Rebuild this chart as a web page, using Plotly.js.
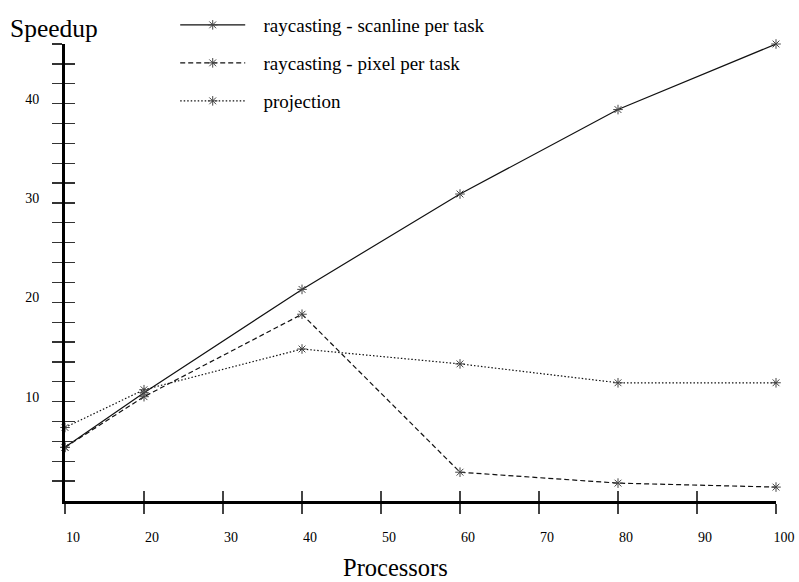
<!DOCTYPE html>
<html>
<head>
<meta charset="utf-8">
<script src="https://cdn.plot.ly/plotly-3.0.1.min.js"></script>
<style>
  html, body { margin: 0; padding: 0; background: #fff; }
  #chart { width: 799px; height: 582px; }
</style>
</head>
<body>
<div id="chart"></div>
<script>
// ---- data ----
const processors = [10, 20, 40, 60, 80, 100];
const scanlinePerTask = [5.4, 10.9, 21.3, 30.9, 39.4, 46.0];
const pixelPerTask = [5.4, 10.5, 18.8, 2.9, 1.8, 1.4];
const projection = [7.4, 11.2, 15.3, 13.8, 11.9, 11.9];
const seriesNames = ['raycasting - scanline per task', 'raycasting - pixel per task', 'projection'];
const xTickVals = [10, 20, 30, 40, 50, 60, 70, 80, 90, 100];
const yTickVals = [2,4,6,8,10,12,14,16,18,20,22,24,26,28,30,32,34,36,38,40,42,44,46];
const yTickLabels = yTickVals.map(v => (v % 10 === 0 ? String(v) : ''));

const FONT = '"Liberation Serif", "Times New Roman", serif';
const GAP = '\u00a0\u00a0\u2009';
const markerStyle = { symbol: 'asterisk-open', size: 8, color: '#444', line: { width: 1, color: '#444' } };

const traces = [
  { x: processors, y: scanlinePerTask, name: GAP + seriesNames[0], mode: 'lines+markers',
    line: { color: '#111', width: 1.2, dash: 'solid' }, marker: markerStyle, cliponaxis: false, legend: 'legend' },
  { x: processors, y: pixelPerTask, name: GAP + seriesNames[1], mode: 'lines+markers',
    line: { color: '#111', width: 1.2, dash: '5px,3px' }, marker: markerStyle, cliponaxis: false, legend: 'legend2' },
  { x: processors, y: projection, name: GAP + seriesNames[2], mode: 'lines+markers',
    line: { color: '#111', width: 1.2, dash: '1.5px,2px' }, marker: markerStyle, cliponaxis: false, legend: 'legend3' }
];

const legendBase = { font: { family: FONT, size: 19, color: '#000' }, bgcolor: 'rgba(0,0,0,0)',
  itemwidth: 65, xanchor: 'left', yanchor: 'middle', borderwidth: 0, yref: 'container' };

const layout = {
  width: 799, height: 582,
  margin: { l: 65, r: 23, t: 44, b: 81, autoexpand: false },
  paper_bgcolor: '#fff', plot_bgcolor: '#fff',
  font: { family: FONT, color: '#000' },
  showlegend: true,
  legend: Object.assign({}, legendBase, { x: 0.155, y: 1 - 25 / 582 }),
  legend2: Object.assign({}, legendBase, { x: 0.155, y: 1 - 63 / 582 }),
  legend3: Object.assign({}, legendBase, { x: 0.155, y: 1 - 101 / 582 }),
  xaxis: {
    range: [10, 100], tickvals: xTickVals, ticktext: xTickVals.map(String),
    showgrid: false, zeroline: false, showline: true, linewidth: 3, linecolor: '#000',
    ticks: 'outside', ticklen: 10, tickwidth: 1.3, tickcolor: '#444',
    tickfont: { family: FONT, size: 14, color: '#000' },
    ticklabelshift: 8, ticklabelstandoff: 11
  },
  xaxis2: {
    overlaying: 'x', matches: 'x', range: [10, 100], tickvals: xTickVals, showticklabels: false,
    showgrid: false, zeroline: false, showline: false,
    ticks: 'inside', ticklen: 10, tickwidth: 1.3, tickcolor: '#444', anchor: 'y'
  },
  yaxis: {
    range: [0, 46], tickvals: yTickVals, ticktext: yTickLabels,
    showgrid: false, zeroline: false, showline: true, linewidth: 3, linecolor: '#000',
    ticks: 'outside', ticklen: 10, tickwidth: 1.3, tickcolor: '#333',
    tickfont: { family: FONT, size: 14, color: '#000' },
    ticklabelshift: -5, ticklabelstandoff: 10
  },
  yaxis2: {
    overlaying: 'y', matches: 'y', range: [0, 46], tickvals: yTickVals, showticklabels: false,
    showgrid: false, zeroline: false, showline: false,
    ticks: 'inside', ticklen: 10, tickwidth: 1.3, tickcolor: '#333', anchor: 'x'
  },
  annotations: [
    { text: 'Speedup', xref: 'paper', yref: 'paper', x: -0.08, y: 0.997, xanchor: 'left', yanchor: 'bottom',
      showarrow: false, font: { family: FONT, size: 25.5, color: '#000' } },
    { text: 'Processors', xref: 'paper', yref: 'paper', x: 0.4655, y: -0.146, xanchor: 'center', yanchor: 'middle',
      showarrow: false, font: { family: FONT, size: 24.5, color: '#000' } }
  ]
};

// invisible helper trace so the overlay tick axes render
traces.push({ x: [processors[0]], y: [scanlinePerTask[0]], xaxis: 'x2', yaxis: 'y2', mode: 'markers',
  marker: { opacity: 0 }, showlegend: false, hoverinfo: 'skip' });

Plotly.newPlot('chart', traces, layout, { displayModeBar: false, staticPlot: true });
</script>
</body>
</html>
